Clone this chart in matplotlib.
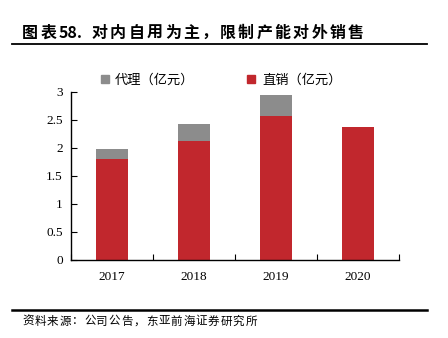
import numpy as np
import matplotlib
matplotlib.use("Agg")
import matplotlib.pyplot as plt
from matplotlib.patches import Patch
from matplotlib.lines import Line2D

# 销售收入（亿元）
years = ["2017", "2018", "2019", "2020"]
direct = [1.80, 2.12, 2.57, 2.38]   # 直销
agent = [0.18, 0.30, 0.37, 0.0]     # 代理
y_ticks = [0, 0.5, 1, 1.5, 2, 2.5, 3]
y_labels = ["0", "0.5", "1", "1.5", "2", "2.5", "3"]

title_tokens = list("图表") + ["58."] + list("对内自用为主，限制产能对外销售")
source_text = "资料来源：公司公告，东亚前海证券研究所"

red = "#C1272D"
grey = "#8C8C8C"
cjk = ["Noto Sans CJK SC", "DejaVu Sans"]

W, H = 448, 338
fig = plt.figure(figsize=(W / 100, H / 100), dpi=100)

# 标题，逐字排布以保留字距
x = 22
for tok in title_tokens:
    fig.text(x / W, 1 - 33 / H, tok, fontsize=11.5, fontweight="bold",
             family=cjk, ha="left", va="center", color="black")
    x += 33 if tok == "58." else 18.3

fig.add_artist(Line2D([12 / W, 427 / W], [1 - 44 / H, 1 - 44 / H],
                      color="black", lw=1.3))
fig.add_artist(Line2D([12 / W, 427 / W], [1 - 310 / H, 1 - 310 / H],
                      color="black", lw=1.8))

x = 22
for ch in source_text:
    fig.text(x / W, 1 - 321 / H, ch, fontsize=8.3, family=cjk,
             ha="left", va="center", color="black")
    x += 12.4

ax = fig.add_axes([71 / W, 1 - 260 / H, 328 / W, 168 / H])
pos = np.arange(len(years))
ax.bar(pos, direct, width=0.4, color=red, zorder=2)
ax.bar(pos, agent, width=0.4, bottom=direct, color=grey, zorder=2)

ax.set_xlim(-0.5, len(years) - 0.5)
ax.set_ylim(0, 3)
ax.set_yticks(y_ticks)
ax.set_yticklabels(y_labels, family="Liberation Serif", fontsize=9.5)
ax.set_xticks(pos)
ax.set_xticklabels(years, family="Liberation Serif", fontsize=9.5)
ax.set_xticks(np.arange(len(years) + 1) - 0.5, minor=True)
ax.tick_params(axis="x", which="major", length=0, pad=8)
ax.tick_params(axis="x", which="minor", direction="in", length=4, width=0.8)
ax.tick_params(axis="y", direction="in", length=4, width=0.8, pad=6)
for s in ["top", "right"]:
    ax.spines[s].set_visible(False)
for s in ["left", "bottom"]:
    ax.spines[s].set_linewidth(1)
    ax.spines[s].set_color("black")

handles = [Patch(color=grey, label="代理（亿元）"),
           Patch(color=red, label="直销（亿元）")]
fig.legend(handles=handles, loc="center", bbox_to_anchor=(221 / W, 1 - 80 / H),
           ncol=2, frameon=False, prop={"family": cjk, "size": 9.5},
           handlelength=0.6, handleheight=0.6, handletextpad=0.5,
           columnspacing=4.0, borderpad=0)

fig.savefig("out.png", dpi=100)
